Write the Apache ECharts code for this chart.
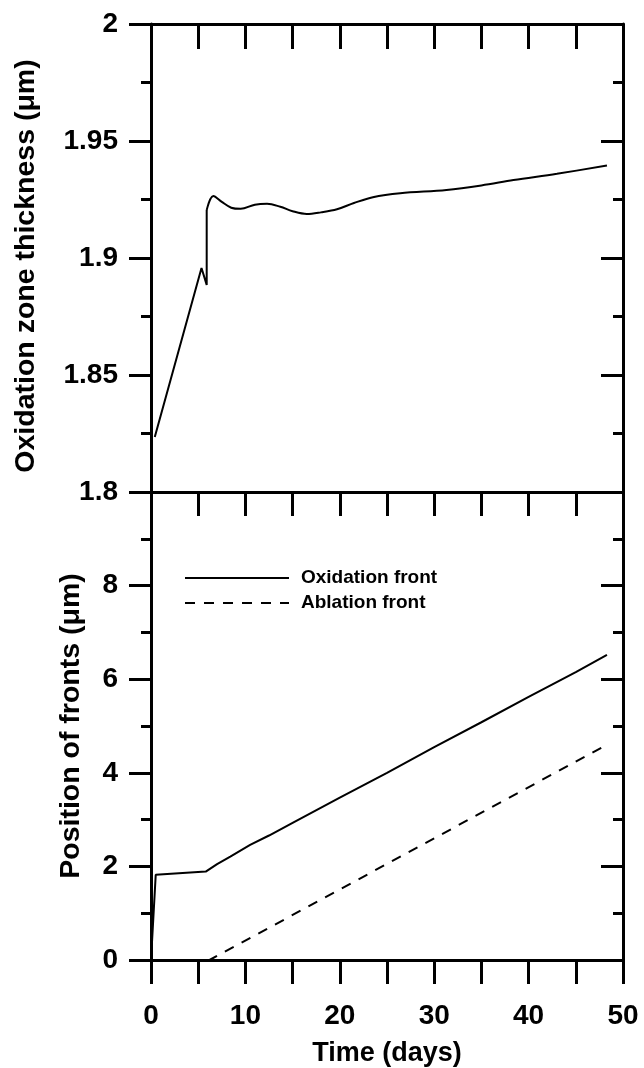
<!DOCTYPE html>
<html>
<head>
<meta charset="utf-8">
<script src="https://cdn.jsdelivr.net/npm/echarts@6/dist/echarts.min.js"></script>
<style>
  html, body { margin: 0; padding: 0; background: #fff; }
  #chart { width: 644px; height: 1068px; }
</style>
</head>
<body>
<div id="chart"></div>
<script>
// Oxidation zone thickness (upper panel)
const thicknessTime = [0.4, 5.35, 5.9, 5.9, 6.6, 7.5, 8.5, 9.5, 11, 12.3, 13.7, 15, 16.5, 18, 19.7, 21.5, 23.5, 26.4, 31.3, 35, 38.4, 43, 48.3];
const thicknessValue = [1.8235, 1.8957, 1.8885, 1.9205, 1.9265, 1.924, 1.9215, 1.921, 1.9228, 1.9232, 1.9219, 1.92, 1.9188, 1.9195, 1.9208, 1.9235, 1.926, 1.9277, 1.9291, 1.931, 1.9333, 1.936, 1.9395];
// index where the sharp start-up transient ends and the smooth part begins
const thicknessKnee = 3;

// Front positions (lower panel)
const oxidationTime = [0, 0.5, 5.8, 7, 8.4, 10.5, 12.5, 15, 20, 25, 30, 35, 40, 45, 48.3];
const oxidationPos = [0, 1.82, 1.89, 2.05, 2.21, 2.46, 2.66, 2.93, 3.47, 4.0, 4.55, 5.08, 5.62, 6.15, 6.52];
const ablationTime = [0, 6.2, 48.3];
const ablationPos = [0, 0, 4.6];

// Axis ranges
const timeRange = [0, 50];
const thicknessRange = [1.8, 2];
const positionRange = [0, 10];

const zip = (xs, ys) => xs.map((x, i) => [x, ys[i]]);

const FONT = '"Liberation Sans", Arial, sans-serif';
const AXIS_LINE = { show: true, onZero: false, lineStyle: { color: '#000', width: 3 } };
const TICK_STYLE = { color: '#000', width: 3 };

function xAxis(grid, position, opts) {
  return Object.assign({
    type: 'value', gridIndex: grid, position: position,
    min: timeRange[0], max: timeRange[1], interval: 5,
    axisLine: AXIS_LINE, splitLine: { show: false },
    axisTick: { show: false }, axisLabel: { show: false }
  }, opts);
}

function yAxis(grid, position, range, interval, opts) {
  const inside = position === 'right';
  return Object.assign({
    type: 'value', gridIndex: grid, position: position,
    min: range[0], max: range[1], interval: interval,
    axisLine: AXIS_LINE, splitLine: { show: false },
    axisTick: { show: true, inside: inside, length: 22, lineStyle: TICK_STYLE },
    minorTick: { show: true, splitNumber: 2, length: 10, lineStyle: TICK_STYLE },
    minorSplitLine: { show: false },
    axisLabel: { show: false }
  }, opts);
}

const labelStyle = { show: true, color: '#000', fontFamily: FONT, fontWeight: 'bold', fontSize: 28 };
const nameStyle = { color: '#000', fontFamily: FONT, fontWeight: 'bold', fontSize: 28.5 };
const blackLine = { color: '#000', width: 2 };

const option = {
  animation: false,
  backgroundColor: '#fff',
  grid: [
    { left: 151, right: 21, top: 24, height: 468 },
    { left: 151, right: 21, top: 492, height: 468 }
  ],
  xAxis: [
    xAxis(0, 'bottom', {}),
    xAxis(0, 'top', { axisTick: { show: true, inside: true, length: 25, lineStyle: TICK_STYLE } }),
    xAxis(1, 'bottom', {
      axisTick: { show: true, inside: false, length: 24, lineStyle: TICK_STYLE },
      axisLabel: Object.assign({}, labelStyle, {
        margin: 42,
        formatter: v => (v % 10 === 0 ? String(v) : '')
      }),
      name: 'Time (days)', nameLocation: 'middle', nameGap: 80,
      nameTextStyle: Object.assign({}, nameStyle, { fontSize: 27 })
    }),
    xAxis(1, 'top', { axisTick: { show: true, inside: true, length: 24, lineStyle: TICK_STYLE } })
  ],
  yAxis: [
    yAxis(0, 'left', thicknessRange, 0.05, {
      axisLabel: Object.assign({}, labelStyle, { margin: 33 }),
      name: 'Oxidation zone thickness (\u03bcm)', nameLocation: 'middle', nameGap: 110,
      nameTextStyle: Object.assign({}, nameStyle, { padding: [0, 16, 0, 0] })
    }),
    yAxis(0, 'right', thicknessRange, 0.05, {}),
    yAxis(1, 'left', positionRange, 2, {
      axisLabel: Object.assign({}, labelStyle, {
        margin: 33,
        formatter: v => (v === positionRange[1] ? '' : String(v))
      }),
      name: 'Position of fronts (\u03bcm)', nameLocation: 'middle', nameGap: 65,
      nameTextStyle: nameStyle
    }),
    yAxis(1, 'right', positionRange, 2, {})
  ],
  legend: {
    orient: 'vertical', left: 184, top: 568, padding: 0,
    itemWidth: 104, itemHeight: 20, itemGap: 5,
    data: ['Oxidation front', 'Ablation front'],
    itemStyle: { opacity: 0 },
    textStyle: { color: '#000', fontFamily: FONT, fontWeight: 'bold', fontSize: 19, lineHeight: 20, padding: [0, 0, 0, 7] }
  },
  series: [
    {
      name: 'Oxidation zone thickness', type: 'line', xAxisIndex: 0, yAxisIndex: 0,
      data: zip(thicknessTime, thicknessValue).slice(0, thicknessKnee + 1), symbol: 'none',
      lineStyle: blackLine
    },
    {
      name: 'Oxidation zone thickness', type: 'line', xAxisIndex: 0, yAxisIndex: 0,
      data: zip(thicknessTime, thicknessValue).slice(thicknessKnee), symbol: 'none',
      smooth: 0.35, lineStyle: blackLine
    },
    {
      name: 'Oxidation front', type: 'line', xAxisIndex: 2, yAxisIndex: 2,
      data: zip(oxidationTime, oxidationPos), symbol: 'none',
      lineStyle: blackLine, itemStyle: { color: '#000' }
    },
    {
      name: 'Ablation front', type: 'line', xAxisIndex: 2, yAxisIndex: 2,
      data: zip(ablationTime, ablationPos), symbol: 'none',
      lineStyle: { color: '#000', width: 2, type: [10, 9] }, itemStyle: { color: '#000' }
    }
  ]
};

echarts.init(document.getElementById('chart'), null, { renderer: 'canvas' }).setOption(option);
</script>
</body>
</html>
